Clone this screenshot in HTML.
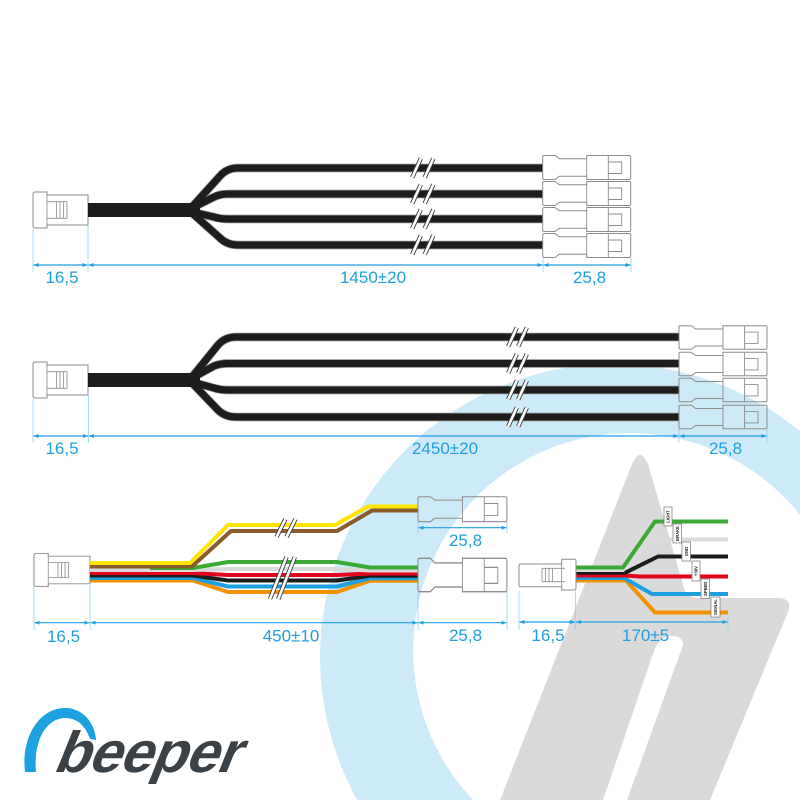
<!DOCTYPE html>
<html><head><meta charset="utf-8"><style>html,body{margin:0;padding:0;background:#fff;width:800px;height:800px;overflow:hidden}svg{display:block;overflow:hidden}</style></head>
<body>
<svg width="800" height="800" viewBox="0 0 800 800" xmlns="http://www.w3.org/2000/svg">
<defs>
<marker id="ar" viewBox="0 0 10 8" refX="10" refY="4" markerWidth="5" markerHeight="4" orient="auto-start-reverse" markerUnits="userSpaceOnUse"><path d="M0,0 L10,4 L0,8 Z" fill="#1d9fe2"/></marker>
<g id="male" fill="#fff" stroke="#8c8c8c" stroke-width="1">
<path d="M2,-18H14V-15H55V15H14V18H2Q0,18 0,16V-16Q0,-18 2,-18Z"/>
<path fill="none" stroke-width="0.8" d="M14,-15V15M14,-8.3H34M14,8.3H34M23.5,-8.3V8.3M27,-8.3V8.3M30.5,-8.3V8.3M34,-8.3V8.3"/>
</g>
<g id="fem" fill="none" stroke="#8c8c8c" stroke-width="1">
<path d="M1.5,-12H12.3L16.6,-8.7H44V-12H86.5Q88,-12 88,-10.5V10.5Q88,12 86.5,12H44V8.7H16.6L12.3,12H1.5Q0,12 0,10.5V-10.5Q0,-12 1.5,-12Z"/>
<path stroke-width="0.9" d="M44,-8.7V8.7M65.6,-12V12M65.6,-5.5H79V6H65.6"/>
</g>
</defs>

<!-- watermark -->
<path fill="#cdeaf8" d="M357.3,800A293,293 0 0,1 800,431.4L800,515.1A217,217 0 1,0 473.2,800Z"/>
<path fill="#dadada" fill-rule="evenodd" d="M632,464Q640,446 648,464L684,588Q687,598 698,598L779,598Q793,599 788,612L710,800L500,800Z M655,648Q664,632 678,637Q685,640 682,648L627,800L603,800Z"/>

<!-- Harness 1 -->
<use href="#male" transform="translate(33,210)"/>
<g fill="none" stroke-linejoin="round">
<g stroke="#8a8a8a" stroke-width="8.4">
<path d="M543,168L238,168Q227,168 220,176L192,207"/>
<path d="M543,194L228,194Q220,194 214,197L192,208"/>
<path d="M543,219L228,219Q220,219 214,217L192,212"/>
<path d="M543,245L238,245Q227,245 220,238L192,213"/>
</g>
<rect x="88" y="203" width="112" height="14" fill="#1d1d1b"/>
<g stroke="#1d1d1b" stroke-width="7">
<path d="M543,168L238,168Q227,168 220,176L192,207"/>
<path d="M543,194L228,194Q220,194 214,197L192,208"/>
<path d="M543,219L228,219Q220,219 214,217L192,212"/>
<path d="M543,245L238,245Q227,245 220,238L192,213"/>
</g>
</g>
<path fill="none" stroke="#3a3a3a" stroke-width="4.4" d="M412.2,177.5L420.8,158.5M424.7,177.5L433.3,158.5M412.2,203.5L420.8,184.5M424.7,203.5L433.3,184.5M412.2,228.5L420.8,209.5M424.7,228.5L433.3,209.5M412.2,254.5L420.8,235.5M424.7,254.5L433.3,235.5"/>
<path fill="none" stroke="#fff" stroke-width="2.6" d="M412.2,177.5L420.8,158.5M424.7,177.5L433.3,158.5M412.2,203.5L420.8,184.5M424.7,203.5L433.3,184.5M412.2,228.5L420.8,209.5M424.7,228.5L433.3,209.5M412.2,254.5L420.8,235.5M424.7,254.5L433.3,235.5"/>
<use href="#fem" transform="translate(542.7,167.5)"/>
<use href="#fem" transform="translate(542.7,193.5)"/>
<use href="#fem" transform="translate(542.7,219.5)"/>
<use href="#fem" transform="translate(542.7,245.5)"/>

<!-- Harness 2 -->
<use href="#male" transform="translate(33,380)"/>
<g fill="none" stroke-linejoin="round">
<g stroke="#8a8a8a" stroke-width="8.4">
<path d="M679,337L236,337Q225,337 218,345L192,377"/>
<path d="M679,363.5L228,363.5Q220,363.5 214,366L192,378"/>
<path d="M679,390L228,390Q220,390 214,388L192,382"/>
<path d="M679,417L236,417Q225,417 218,410L192,383"/>
</g>
<rect x="88" y="373" width="112" height="14" fill="#1d1d1b"/>
<g stroke="#1d1d1b" stroke-width="7">
<path d="M679,337L236,337Q225,337 218,345L192,377"/>
<path d="M679,363.5L228,363.5Q220,363.5 214,366L192,378"/>
<path d="M679,390L228,390Q220,390 214,388L192,382"/>
<path d="M679,417L236,417Q225,417 218,410L192,383"/>
</g>
</g>
<path fill="none" stroke="#3a3a3a" stroke-width="4.4" d="M508.2,346.5L516.8,327.5M518.2,346.5L526.8,327.5M508.2,373L516.8,354M518.2,373L526.8,354M508.2,399.5L516.8,380.5M518.2,399.5L526.8,380.5M508.2,426.5L516.8,407.5M518.2,426.5L526.8,407.5"/>
<path fill="none" stroke="#fff" stroke-width="2.6" d="M508.2,346.5L516.8,327.5M518.2,346.5L526.8,327.5M508.2,373L516.8,354M518.2,373L526.8,354M508.2,399.5L516.8,380.5M518.2,399.5L526.8,380.5M508.2,426.5L516.8,407.5M518.2,426.5L526.8,407.5"/>
<use href="#fem" transform="translate(679,337.5) scale(1,0.98)"/>
<use href="#fem" transform="translate(679,364) scale(1,0.98)"/>
<use href="#fem" transform="translate(679,390) scale(1,0.98)"/>
<use href="#fem" transform="translate(679,417) scale(1,0.98)"/>

<!-- Bottom-left harness -->
<use href="#male" transform="translate(34,570) scale(1.018,0.92)"/>
<g fill="none" stroke-width="4" stroke-linejoin="round">
<path stroke="#f39200" d="M90,580.5L193,580.5L228,592L337,592L370,580.7L418,580.7"/>
<path stroke="#1e9fe0" d="M90,578L193,578L228,586.5L337,586.5L370,578.3L418,578.3"/>
<path stroke="#1d1d1b" d="M90,575.5L193,575.5L228,580.5L337,580.5L370,575.8L418,575.8"/>
<path stroke="#e3051b" d="M90,573L193,573L228,575L337,575L370,573.5L418,573.5"/>
<path stroke="#d9d9d9" d="M90,570L193,570L228,569L337,569L370,570.5L418,570.5"/>
<path stroke="#3aaa35" d="M150,568L193,568L228,562L337,562L370,567.5L418,567.5"/>
<path stroke="#8b5a2b" d="M90,566.5L192,566.5L231,531L337,531L372,510.5L418,510.5"/>
<path stroke="#ffe500" d="M90,563L190,563L228,525L335,525L368,506.5L418,506.5"/>
</g>
<path fill="none" stroke="#3a3a3a" stroke-width="4.4" d="M276.5,537L285.5,519M286.5,537L295.5,519M270,599L286.5,557M278.3,599L294.8,557"/>
<path fill="none" stroke="#fff" stroke-width="2.6" d="M276.5,537L285.5,519M286.5,537L295.5,519M270,599L286.5,557M278.3,599L294.8,557"/>
<use href="#fem" transform="translate(418,509.2) scale(1.01,1.04)"/>
<use href="#fem" transform="translate(418,575) scale(1.01,1.39)"/>

<!-- Bottom-right harness -->
<g fill="none" stroke-width="4" stroke-linejoin="round">
<path stroke="#f39200" d="M575,580.5L626,580.5L655,612.5L728,612.5"/>
<path stroke="#1e9fe0" d="M575,578L624,578L652,594L728,594"/>
<path stroke="#e3051b" d="M575,575.5L625,575.5L640,576.5L728,576.5"/>
<path stroke="#1d1d1b" d="M575,572.8L625,572.8L658,556.5L728,556.5"/>
<path stroke="#dcdcdc" d="M575,570L623,570L652,539.5L728,539.5"/>
<path stroke="#3aaa35" d="M575,567.5L623,567.5L655,521.5L728,521.5"/>
</g>
<path fill="#fff" stroke="#8c8c8c" stroke-width="1" d="M519,566Q519,564 521,564H561.7V559.3H574Q576,559.3 576,561.3V588Q576,590 574,590H561.7V586.7H521Q519,586.7 519,584.7Z"/>
<path fill="none" stroke="#8c8c8c" stroke-width="0.8" d="M561.7,564V586.7M542,568.3H565M542,581.7H565M542,568.3V581.7M545.5,568.3V581.7M549,568.3V581.7M552.5,568.3V581.7"/>
<g fill="#fff" stroke="#777" stroke-width="0.7">
<rect x="664" y="507" width="8" height="19"/>
<rect x="673" y="524" width="8.5" height="19"/>
<rect x="682" y="542" width="8.5" height="19"/>
<rect x="692" y="561" width="8" height="20"/>
<rect x="701" y="579" width="8.5" height="19.5"/>
<rect x="711" y="597" width="9" height="20"/>
</g>
<g font-family="Liberation Sans, sans-serif" font-size="4.2" font-weight="bold" fill="#222" text-anchor="middle">
<text transform="translate(669.5,516.5) rotate(-90)">LIGHT</text>
<text transform="translate(678.8,533.5) rotate(-90)">BRAKE</text>
<text transform="translate(687.8,551.5) rotate(-90)">GND</text>
<text transform="translate(697.5,571) rotate(-90)">+36V</text>
<text transform="translate(706.8,588.8) rotate(-90)">SPEED</text>
<text transform="translate(717,607) rotate(-90)">SIGNAL</text>
</g>

<!-- extension lines -->
<g stroke="#8fd1f1" stroke-width="0.8" fill="none">
<path d="M33,229V272M88,226V272M543,258V272M631,258V272"/>
<path d="M33,399V443M88.5,396V443M679,429V443M767,429V443"/>
<path d="M418,522V533M507,522V533"/>
<path d="M34,587V630M90,585V630M418,592V630M507,592V630"/>
<path d="M519,591V630M575.5,591V630M728,615V630"/>
</g>
<!-- dimension lines -->
<g stroke="#1d9fe2" stroke-width="1.2" marker-start="url(#ar)" marker-end="url(#ar)">
<line x1="33.5" y1="265" x2="87.5" y2="265"/>
<line x1="88.5" y1="265" x2="542.5" y2="265"/>
<line x1="543.5" y1="265" x2="630.5" y2="265"/>
<line x1="33.5" y1="436" x2="88" y2="436"/>
<line x1="89" y1="436" x2="678.5" y2="436"/>
<line x1="679.5" y1="436" x2="766.5" y2="436"/>
<line x1="418.5" y1="527.7" x2="506.5" y2="527.7"/>
<line x1="34.5" y1="622.7" x2="89.5" y2="622.7"/>
<line x1="90.5" y1="622.7" x2="417.5" y2="622.7"/>
<line x1="418.5" y1="622.7" x2="506.5" y2="622.7"/>
<line x1="519.5" y1="622" x2="575" y2="622"/>
<line x1="576" y1="622" x2="727.5" y2="622"/>
</g>
<g font-family="Liberation Sans, sans-serif" font-size="17" fill="#1d9fe2" text-anchor="middle">
<text x="62" y="283">16,5</text>
<text x="373" y="283">1450±20</text>
<text x="589.5" y="283">25,8</text>
<text x="62" y="454">16,5</text>
<text x="445" y="454">2450±20</text>
<text x="725.5" y="454">25,8</text>
<text x="465.5" y="546">25,8</text>
<text x="63.5" y="642">16,5</text>
<text x="291" y="641.5">450±10</text>
<text x="465.5" y="641">25,8</text>
<text x="548" y="641">16,5</text>
<text x="645.5" y="641">170±5</text>
</g>

<!-- logo -->
<path fill="#1da1e0" d="M25,772C21,736 40,708 65,708C82,708 95,722 96,740L90,739C86,727 78,718 65,718C48,718 33,738 36,772Z"/>
<text transform="translate(52,772) skewX(-22)" font-family="Liberation Sans, sans-serif" font-weight="bold" font-size="58" letter-spacing="-1" fill="#3c4146">beeper</text>
</svg>
</body></html>
